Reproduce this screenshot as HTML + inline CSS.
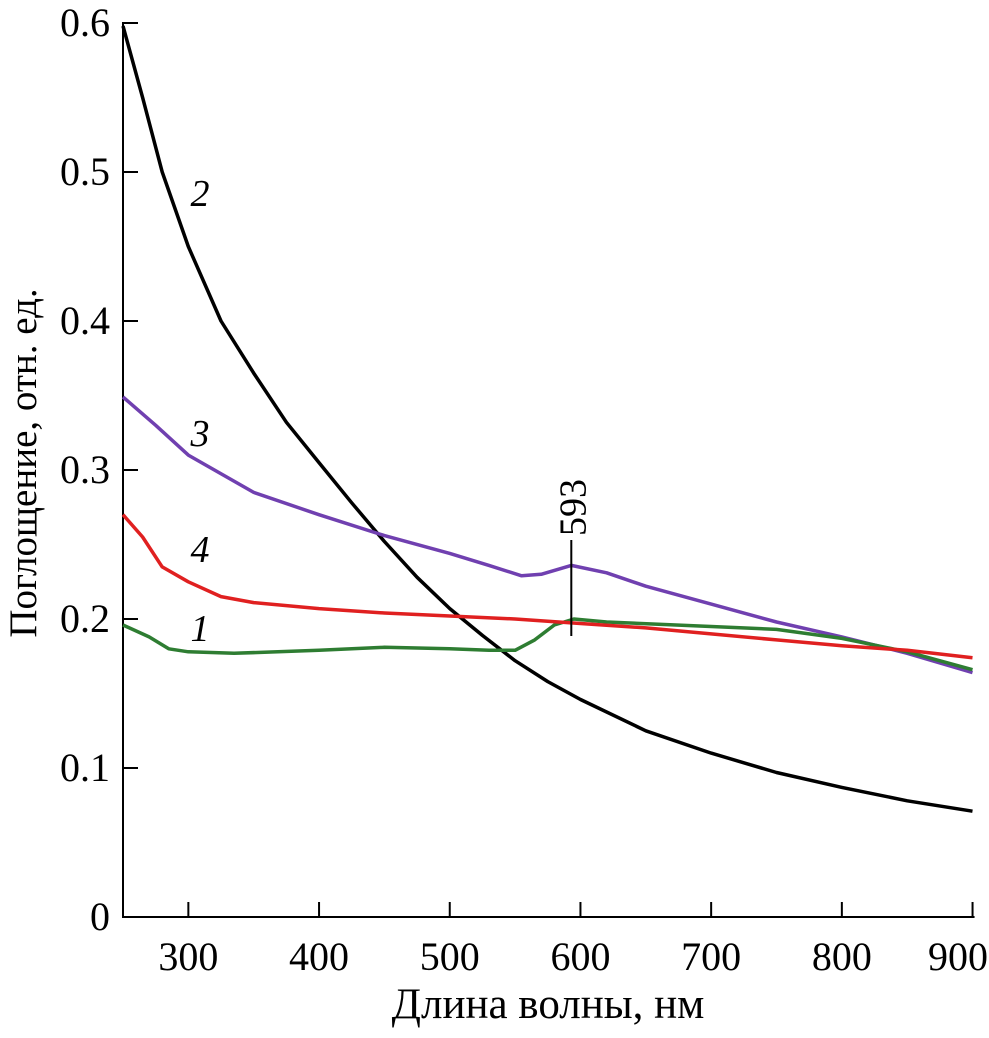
<!DOCTYPE html>
<html><head><meta charset="utf-8"><style>
body{margin:0;background:#fff}
svg text{font-family:"Liberation Serif",serif;fill:#000}
</style></head><body>
<svg width="989" height="1033">
<g id="axes"></g><g id="series"></g>
<text x="548" y="1018" font-size="43" text-anchor="middle">Длина волны, нм</text>
<text transform="translate(36,463) rotate(-90)" font-size="39" text-anchor="middle">Поглощение, отн. ед.</text>
</svg>
<script>
const xTicks=[300,400,500,600,700,800,900];
const yTicks=[0,0.1,0.2,0.3,0.4,0.5,0.6];
const yTickLabels=["0","0.1","0.2","0.3","0.4","0.5","0.6"];
const wl2=[250,265,280,300,325,350,375,400,425,450,475,500,525,550,575,600,650,700,750,800,850,900];
const s2=[0.598,0.55,0.5,0.45,0.4,0.365,0.332,0.305,0.278,0.252,0.228,0.207,0.189,0.172,0.158,0.146,0.125,0.11,0.097,0.087,0.078,0.071];
const wl3=[250,275,300,350,400,450,500,530,555,570,593,620,650,700,750,800,850,900];
const s3=[0.349,0.33,0.31,0.285,0.27,0.256,0.244,0.236,0.229,0.23,0.236,0.231,0.222,0.21,0.198,0.188,0.177,0.164];
const wl4=[250,265,280,300,325,350,400,450,500,550,600,650,700,750,800,850,900];
const s4=[0.27,0.255,0.235,0.225,0.215,0.211,0.207,0.204,0.202,0.2,0.197,0.194,0.19,0.186,0.182,0.179,0.174];
const wl1=[250,270,285,300,335,400,450,500,530,550,565,580,595,620,700,750,800,850,900];
const s1=[0.196,0.188,0.18,0.178,0.177,0.179,0.181,0.18,0.179,0.179,0.186,0.196,0.2,0.198,0.195,0.193,0.187,0.178,0.166];
const peak=593;
const X=v=>123+(v-250)*1.307;
const Y=v=>917-v*1490;
const NS="http://www.w3.org/2000/svg";
const ax=document.getElementById('axes'),se=document.getElementById('series');
function mk(p,tag,at){const e=document.createElementNS(NS,tag);for(const k in at)e.setAttribute(k,at[k]);p.appendChild(e);return e;}
let e=mk(ax,'path',{d:`M123,${Y(0.6)-1}V917H${X(900)+2}`,stroke:'#000','stroke-width':2,fill:'none'});


xTicks.forEach((t,i)=>{
 let l=mk(ax,'line',{x1:X(t),x2:X(t),y1:917,y2:902,stroke:'#000','stroke-width':2});
 
 
 const last=i===xTicks.length-1;
 let tx=mk(ax,'text',{x:last?988:X(t),y:970,'font-size':40,'text-anchor':last?'end':'middle'});tx.textContent=t;
 
 
});
yTicks.forEach((t,i)=>{
 if(t>0){let l=mk(ax,'line',{x1:123,x2:138,y1:Y(t),y2:Y(t),stroke:'#000','stroke-width':2});
 
 }
 let tx=mk(ax,'text',{x:110,y:Y(t)+13,'font-size':40,'text-anchor':'end'});tx.textContent=yTickLabels[i];
 
 
});
function line(w,s,c,name){
 let d=w.map((v,i)=>(i?'L':'M')+X(v).toFixed(1)+','+Y(s[i]).toFixed(1)).join('');
 let p=mk(se,'path',{d,stroke:c,'stroke-width':3.5,fill:'none','stroke-linejoin':'round'});
 
 
}
line(wl2,s2,'#000','curve-2');
line(wl3,s3,'#7040b0','curve-3');
line(wl1,s1,'#2e7d32','curve-1');
line(wl4,s4,'#e02020','curve-4');
[["2",200,206],["3",200,446],["4",200,562],["1",200,641]].forEach(a=>{
 let t=mk(se,'text',{x:a[1],y:a[2],'font-size':38,'font-style':'italic','text-anchor':'middle'});t.textContent=a[0];
 
 
});
let pl=mk(se,'line',{x1:X(peak),x2:X(peak),y1:540,y2:636,stroke:'#000','stroke-width':2});


let pt=mk(se,'text',{transform:`translate(${X(peak)+14},536) rotate(-90)`,'font-size':38});pt.textContent=peak;


</script>
</body></html>
